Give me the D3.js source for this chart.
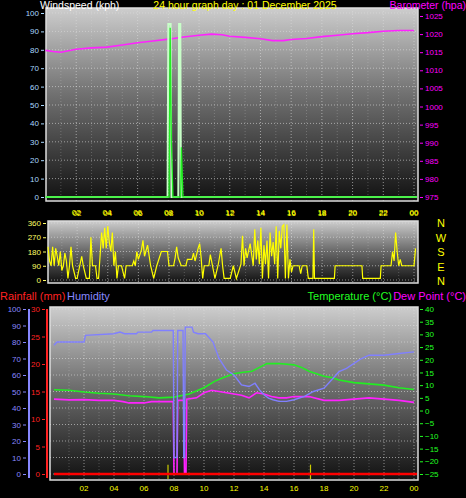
<!DOCTYPE html>
<html><head><meta charset="utf-8">
<script src="https://cdn.jsdelivr.net/npm/d3@7"></script>
<style>body{margin:0;background:#000}svg{display:block;font-family:"Liberation Sans",Arial,sans-serif}</style>
</head><body><div id="chart"></div>
<script>
const hourTicks = [2,4,6,8,10,12,14,16,18,20,22,24]
const hourLabel = h => h == 24 ? "00" : d3.format("02")(h)

// barometer (hPa) [hour, value]
const baro = [[0,1015.5],[0.5,1015.2],[1,1015],[2,1015.8],[3,1016.2],[4,1016.4],[5,1017],[6,1017.6],[7,1018.1],[8,1018.6],[9,1019.2],[10,1019.7],[10.8,1020],[11.5,1019.8],[12,1019.4],[13,1019.1],[14,1018.7],[14.8,1018.2],[15.5,1018.2],[16,1018.5],[17,1018.8],[18,1019.3],[19,1019.7],[20,1020.1],[21,1020.4],[22,1020.8],[23,1021],[24,1021]]
// wind gust and average (kph)
const gust = [[0,0],[7.95,0],[8.0,94],[8.15,94],[8.2,0],[8.65,0],[8.7,94],[8.78,94],[8.82,0],[24.2,0]]
const windAvg = [[0,0],[8.05,0],[8.12,92],[8.2,30],[8.3,0],[8.8,0],[8.85,27],[8.95,0],[24.2,0]]
// wind direction (deg)
const windDir = [[0.1,210],[0.2,120],[0.3,90],[0.4,210],[0.5,90],[0.6,200],[0.7,150],[0.8,90],[0.9,180],[1.0,60],[1.1,90],[1.2,170],[1.3,120],[1.4,10],[1.5,90],[1.6,210],[1.7,90],[1.9,10],[2.0,10],[2.3,150],[2.4,90],[2.6,10],[2.8,10],[2.9,270],[3.0,90],[3.2,90],[3.3,10],[3.4,10],[3.6,300],[3.7,200],[3.8,330],[3.9,200],[4.0,340],[4.1,240],[4.2,180],[4.3,300],[4.4,90],[4.5,180],[4.6,10],[4.7,90],[4.9,90],[5.1,10],[5.2,90],[5.6,90],[5.7,120],[5.8,90],[5.9,180],[6.0,130],[6.2,190],[6.3,250],[6.4,150],[6.6,220],[6.8,90],[7.0,10],[7.2,90],[7.5,180],[7.9,180],[8.0,90],[8.3,90],[8.4,140],[8.5,210],[8.6,140],[8.8,90],[9.1,90],[9.2,130],[9.5,130],[9.6,170],[9.7,120],[9.9,200],[10.0,230],[10.1,140],[10.2,10],[10.3,90],[10.6,90],[10.7,160],[10.9,60],[11.0,10],[11.2,90],[11.4,200],[11.5,90],[11.6,10],[12.0,10],[12.2,90],[12.4,10],[12.7,100],[12.8,280],[12.9,90],[13.0,200],[13.1,140],[13.3,230],[13.5,90],[13.6,320],[13.7,130],[13.8,250],[13.9,100],[14.0,330],[14.1,10],[14.2,220],[14.3,100],[14.4,250],[14.5,10],[14.6,300],[14.7,150],[14.8,240],[14.9,100],[15.0,340],[15.1,10],[15.2,310],[15.3,200],[15.4,340],[15.5,350],[15.6,10],[15.7,350],[15.8,10],[15.9,130],[16.0,50],[16.1,90],[16.5,90],[16.6,40],[16.7,90],[17.0,90],[17.1,10],[17.4,10],[17.45,320],[17.5,10],[18.8,10],[18.85,90],[20.6,90],[20.65,10],[21.8,10],[21.85,90],[22.5,90],[22.6,180],[22.7,120],[22.8,300],[22.9,180],[23.0,90],[23.1,130],[23.2,90],[24.0,90],[24.1,200]]
// humidity (%)
const humidity = [[0,78],[0.2,80],[2,80],[2.1,84],[4,85],[4.4,86],[4.7,85],[5.5,85],[5.6,86],[6.5,86],[6.6,87],[7.95,87],[8.0,10],[8.2,10],[8.25,87],[8.6,87],[8.65,10],[8.7,10],[8.75,89],[9.2,89],[9.3,86],[9.6,85],[10.1,85],[10.6,80],[11,70],[11.5,63],[12,60],[12.5,54],[13,53],[13.4,55],[13.7,51],[14,48],[14.3,46],[14.6,45],[15,44],[15.5,44],[16,45],[16.7,47],[17.3,50],[18,52],[18.5,57],[19,62],[19.5,64],[20,67],[20.5,70],[21,72],[22,72],[23,73],[24,74]]
// temperature (°C)
const temperature = [[0,8.2],[1,8],[2,7.3],[3,6.8],[4,6.5],[5,5.8],[6,5.5],[7,5],[8,5.3],[9,6.5],[10,9],[10.7,11.5],[11.3,13],[12,14.5],[12.5,15],[13.2,15.5],[13.7,17],[14.2,18.5],[15,18.5],[16,18],[16.5,17],[17,15.5],[17.5,14.5],[18,13.5],[18.5,13],[19,12],[20,11],[21,10.5],[22,10],[23,9],[24,8.3]]
// dew point (°C)
const dewPoint = [[0,4.5],[1,4.2],[2,4.3],[3,4],[4,4],[4.6,3.5],[5,3],[6,3],[6.5,3.5],[7.95,3.5],[8.0,-25],[8.2,-25],[8.25,4],[8.65,4],[8.7,-25],[8.8,-25],[8.85,4.5],[9.5,5],[10,7],[10.5,8],[11,7.5],[12,6.5],[12.5,6],[13,5],[13.5,7],[14,6.5],[14.5,5.5],[15,5],[15.5,5],[16,5.5],[17,5.5],[18,4],[19,4],[20,4.5],[21,5],[22,4.5],[23,4],[24,3.2]]
// rainfall (mm) and yellow event markers
const rain = [[0,0],[24.2,0]]
const markers = [7.6, 17.1]

const width = 466, height = 498
const svg = d3.select("#chart").append("svg").attr("width", width).attr("height", height)
const defs = svg.append("defs")
const grad = defs.append("linearGradient").attr("id", "bg").attr("x1", 0).attr("x2", 0).attr("y1", 0).attr("y2", 1)
grad.append("stop").attr("offset", "0%").attr("stop-color", "#cdcdcd")
grad.append("stop").attr("offset", "45%").attr("stop-color", "#707070")
grad.append("stop").attr("offset", "100%").attr("stop-color", "#111")

function panel(x0, x1, y0, y1, yTicks, yScale, hTicksY) {
    svg.append("rect").attr("x", x0).attr("y", y0).attr("width", x1 - x0).attr("height", y1 - y0)
        .attr("fill", "url(#bg)").attr("stroke", "#ddd").attr("stroke-width", 1.5)
    const g = svg.append("g")
    g.selectAll(".h").data(yTicks).enter().append("line")
        .attr("x1", x0).attr("x2", x1).attr("y1", d => yScale(d)).attr("y2", d => yScale(d))
        .attr("stroke", "#ddd").attr("stroke-dasharray", "1,2").attr("opacity", 0.6)
    g.selectAll(".v").data(d3.range(1, 25)).enter().append("line")
        .attr("y1", y0).attr("y2", y1).attr("x1", d => hTicksY(d)).attr("x2", d => hTicksY(d))
        .attr("stroke", "#ddd").attr("stroke-dasharray", "1,2").attr("opacity", d => d % 2 ? 0.25 : 0.6)
}
function leftAxis(scale, ticks, x, color) {
    svg.append("g").attr("transform", `translate(${x},0)`)
        .call(d3.axisLeft(scale).tickValues(ticks).tickSize(3).tickPadding(2).tickFormat(d3.format("d")))
        .call(g => g.select(".domain").remove())
        .call(g => g.selectAll("text").attr("fill", color).attr("font-size", 8))
        .call(g => g.selectAll("line").attr("stroke", color))
}
function rightAxis(scale, ticks, x, color) {
    svg.append("g").attr("transform", `translate(${x},0)`)
        .call(d3.axisRight(scale).tickValues(ticks).tickSize(3).tickPadding(2).tickFormat(d3.format("d")))
        .call(g => g.select(".domain").remove())
        .call(g => g.selectAll("text").attr("fill", color).attr("font-size", 8))
        .call(g => g.selectAll("line").attr("stroke", color))
}
function hourAxis(x, y) {
    svg.append("g").selectAll("text").data(hourTicks).enter().append("text")
        .attr("x", d => x(d)).attr("y", y).attr("text-anchor", "middle")
        .attr("fill", "#ffff00").attr("font-size", 8).text(hourLabel)
}
function title(x, y, t, c, anchor, size) {
    svg.append("text").attr("x", x).attr("y", y).attr("fill", c).attr("font-size", size || 11)
        .attr("text-anchor", anchor || "start").text(t)
}
const path = (x, y, data, color, w) => svg.append("path").datum(data)
    .attr("d", d3.line().x(d => x(d[0])).y(d => y(d[1]))).attr("fill", "none")
    .attr("stroke", color).attr("stroke-width", w || 1.3)

// top panel
const x1 = d3.scaleLinear().domain([0, 24]).range([45.5, 414])
const ySpeed = d3.scaleLinear().domain([0, 100]).range([197, 13])
const yBaro = d3.scaleLinear().domain([975, 1025]).range([197, 16])
panel(46, 418, 8, 201, d3.range(0, 101, 10), ySpeed, x1)
leftAxis(ySpeed, d3.range(0, 101, 10), 44, "#a8d8ff")
rightAxis(yBaro, d3.range(975, 1026, 5), 420, "#ff00ff")
hourAxis(x1, 215)
path(x1, yBaro, baro, "#ff22ff", 1.6)
path(x1, ySpeed, gust, "#c8ffc8", 2)
path(x1, ySpeed, windAvg, "#22ee22", 1.3)
title(40, 9, "Windspeed (kph)", "#fff", "start", 10.5)
title(245, 9, "24 hour graph day : 01 December 2025", "#ffff00", "middle", 10.5)
title(466, 9, "Barometer (hpa)", "#ff00ff", "end", 10.5)

// middle panel
const x2 = d3.scaleLinear().domain([0, 24]).range([46.5, 414])
const yDir = d3.scaleLinear().domain([0, 360]).range([280, 223])
panel(48, 418, 221, 283, [0, 90, 180, 270, 360], yDir, x2)
leftAxis(yDir, [0, 90, 180, 270, 360], 46, "#ffff66")
hourAxis(x2, 216)
path(x2, yDir, windDir, "#ffff00", 1.2)
svg.append("g").selectAll("text").data(["N", "W", "S", "E", "N"]).enter().append("text")
    .attr("x", 441).attr("y", (d, i) => 227 + i * 14.5).attr("text-anchor", "middle")
    .attr("fill", "#ffff00").attr("font-size", 11).text(d => d)

// bottom panel
const x3 = d3.scaleLinear().domain([0, 24]).range([54, 414])
const yHum = d3.scaleLinear().domain([0, 100]).range([474, 309])
const yRain = d3.scaleLinear().domain([0, 30]).range([474, 309])
const yTemp = d3.scaleLinear().domain([-25, 40]).range([474, 309])
panel(50, 418, 307, 480, d3.range(0, 101, 10), yHum, x3)
leftAxis(yHum, d3.range(0, 101, 10), 26, "#8888ff")
leftAxis(yRain, d3.range(0, 31, 5), 45, "#ff2222")
rightAxis(yTemp, d3.range(-25, 41, 5), 420, "#22ff22")
svg.append("line").attr("x1", 29).attr("x2", 29).attr("y1", 309).attr("y2", 478).attr("stroke", "#8888ff").attr("stroke-width", 2)
svg.append("line").attr("x1", 47).attr("x2", 47).attr("y1", 309).attr("y2", 478).attr("stroke", "#ff2222").attr("stroke-width", 2)
hourAxis(x3, 491)
svg.append("g").selectAll("line").data(markers).enter().append("line")
    .attr("x1", d => x3(d)).attr("x2", d => x3(d)).attr("y1", yRain(1.7)).attr("y2", 479)
    .attr("stroke", "#cccc00").attr("stroke-width", 1.2)
path(x3, yTemp, temperature, "#22ee22", 1.6)
path(x3, yTemp, dewPoint, "#ff22ff", 1.6)
path(x3, yHum, humidity, "#8080ff", 1.4)
path(x3, yRain, rain, "#ff0000", 2.5)
title(0, 300, "Rainfall (mm)", "#ff2222")
title(67, 300, "Humidity", "#8888ff")
title(392, 300, "Temperature (°C)", "#22ff22", "end")
title(466, 300, "Dew Point (°C)", "#ff00ff", "end")
</script></body></html>
